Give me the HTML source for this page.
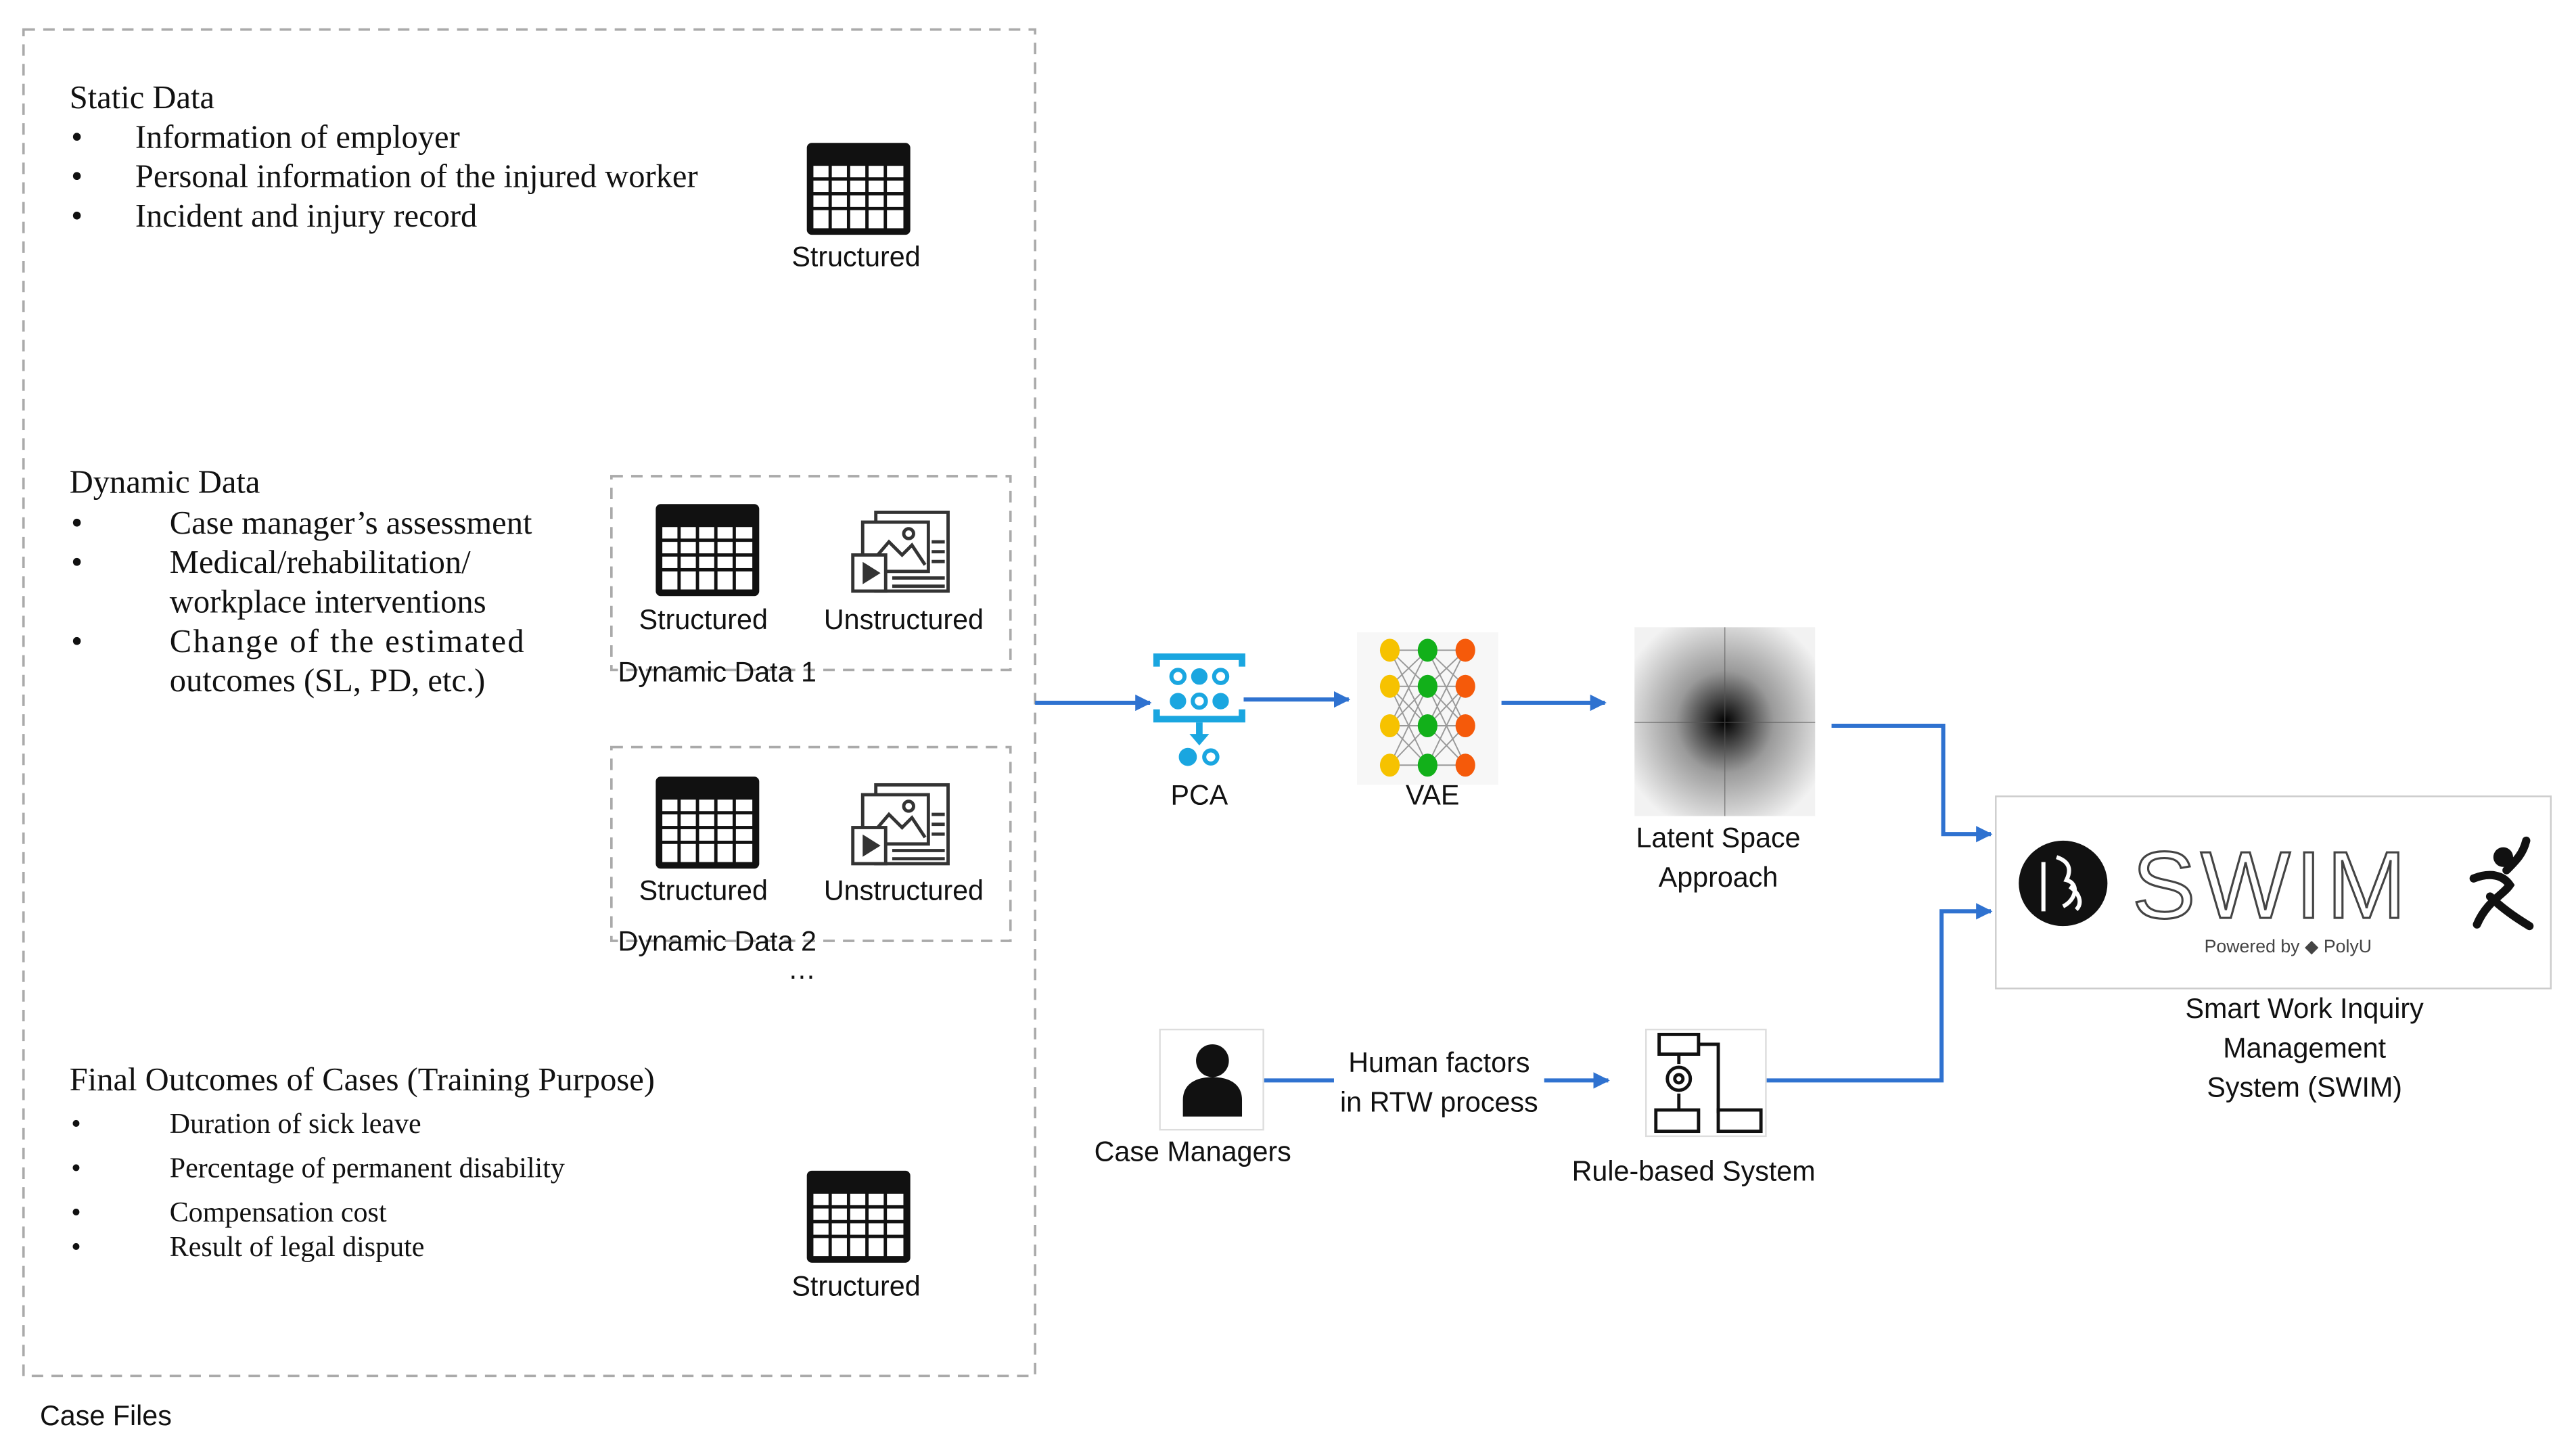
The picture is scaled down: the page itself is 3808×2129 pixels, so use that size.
<!DOCTYPE html>
<html><head><meta charset="utf-8"><style>
html,body{margin:0;padding:0;background:#fff;width:3808px;height:2129px;overflow:hidden}
svg{display:block}
.s{font-family:"Liberation Serif",serif;fill:#111}
.a{font-family:"Liberation Sans","DejaVu Sans",sans-serif;fill:#111}
</style></head><body>
<svg width="3808" height="2129" viewBox="0 0 1568 877" xmlns="http://www.w3.org/2000/svg">
<defs>
<marker id="ar" markerWidth="10" markerHeight="10" refX="9" refY="5" orient="auto" markerUnits="userSpaceOnUse" viewBox="0 0 10 10"><path d="M0,0 L10,5 L0,10 z" fill="#2f72d0"/></marker>
<g id="tbl">
<rect x="0" y="0" width="63" height="56" fill="#111" rx="3"/>
<g fill="#fff">
<rect x="4" y="14" width="9.2" height="7"/><rect x="15.2" y="14" width="9.2" height="7"/><rect x="26.4" y="14" width="9.2" height="7"/><rect x="37.6" y="14" width="9.2" height="7"/><rect x="48.8" y="14" width="10" height="7"/>
<rect x="4" y="23" width="9.2" height="7"/><rect x="15.2" y="23" width="9.2" height="7"/><rect x="26.4" y="23" width="9.2" height="7"/><rect x="37.6" y="23" width="9.2" height="7"/><rect x="48.8" y="23" width="10" height="7"/>
<rect x="4" y="32" width="9.2" height="7"/><rect x="15.2" y="32" width="9.2" height="7"/><rect x="26.4" y="32" width="9.2" height="7"/><rect x="37.6" y="32" width="9.2" height="7"/><rect x="48.8" y="32" width="10" height="7"/>
<rect x="4" y="41" width="9.2" height="11"/><rect x="15.2" y="41" width="9.2" height="11"/><rect x="26.4" y="41" width="9.2" height="11"/><rect x="37.6" y="41" width="9.2" height="11"/><rect x="48.8" y="41" width="10" height="11"/>
</g></g>
<g id="uns" fill="none" stroke="#333" stroke-width="2">
<rect x="14" y="4" width="44" height="48" fill="#fff"/>
<rect x="6" y="10" width="40" height="30" fill="#fff"/>
<path d="M10,36 L22,22 L30,30 L36,24 L44,36"/>
<circle cx="34" cy="17" r="3"/>
<rect x="0" y="30" width="20" height="22" fill="#fff"/>
<path d="M7,36 L15,41 L7,46 z" fill="#333"/>
<path d="M48,22 h8 M48,28 h8 M48,34 h8 M24,44 h32 M24,49 h32"/>
</g>
</defs>

<rect x="14" y="18" width="616" height="820" fill="none" stroke="#aaa" stroke-width="1.5" stroke-dasharray="7,5"/>
<text class="a" x="24" y="868" font-size="17">Case Files</text>

<text class="s" x="42" y="66" font-size="20">Static Data</text>
<g class="s" font-size="20">
<text x="43" y="90">•</text><text x="82" y="90">Information of employer</text>
<text x="43" y="114">•</text><text x="82" y="114">Personal information of the injured worker</text>
<text x="43" y="138">•</text><text x="82" y="138">Incident and injury record</text>
</g>
<use href="#tbl" x="491" y="87"/>
<text class="a" x="521" y="162" font-size="17" text-anchor="middle">Structured</text>

<text class="s" x="42" y="300" font-size="20">Dynamic Data</text>
<g class="s" font-size="20">
<text x="43" y="325">•</text><text x="103" y="325">Case manager’s assessment</text>
<text x="43" y="349">•</text><text x="103" y="349">Medical/rehabilitation/</text>
<text x="103" y="373">workplace interventions</text>
<text x="43" y="397">•</text><text x="103" y="397" letter-spacing="1">Change of the estimated</text>
<text x="103" y="421">outcomes (SL, PD, etc.)</text>
</g>

<rect x="372" y="290" width="243" height="118" fill="none" stroke="#aaa" stroke-width="1.5" stroke-dasharray="7,5"/>
<use href="#tbl" x="399" y="307"/>
<use href="#uns" x="519" y="308"/>
<text class="a" x="428" y="383" font-size="17" text-anchor="middle">Structured</text>
<text class="a" x="550" y="383" font-size="17" text-anchor="middle">Unstructured</text>
<text class="a" x="376" y="415" font-size="17">Dynamic Data 1</text>

<rect x="372" y="455" width="243" height="118" fill="none" stroke="#aaa" stroke-width="1.5" stroke-dasharray="7,5"/>
<use href="#tbl" x="399" y="473"/>
<use href="#uns" x="519" y="474"/>
<text class="a" x="428" y="548" font-size="17" text-anchor="middle">Structured</text>
<text class="a" x="550" y="548" font-size="17" text-anchor="middle">Unstructured</text>
<text class="a" x="376" y="579" font-size="17">Dynamic Data 2</text>
<text class="a" x="488" y="596" font-size="17" text-anchor="middle">…</text>

<text class="s" x="42" y="664" font-size="20">Final Outcomes of Cases (Training Purpose)</text>
<g class="s" font-size="17.3">
<text x="43" y="690">•</text><text x="103" y="690">Duration of sick leave</text>
<text x="43" y="717">•</text><text x="103" y="717">Percentage of permanent disability</text>
<text x="43" y="744">•</text><text x="103" y="744">Compensation cost</text>
<text x="43" y="765">•</text><text x="103" y="765">Result of legal dispute</text>
</g>
<use href="#tbl" x="491" y="713"/>
<text class="a" x="521" y="789" font-size="17" text-anchor="middle">Structured</text>

<g stroke="#2f72d0" stroke-width="2.5" fill="none" marker-end="url(#ar)">
<path d="M630,428 H700"/>
<path d="M757,426 H821"/>
<path d="M914,428 H977"/>
<path d="M1115,442 H1183 V508 H1212"/>
<path d="M769,658 H979"/>
<path d="M1075,658 H1182 V555 H1212"/>
</g>

<g fill="#1aa6e0" stroke="#1aa6e0">
<path d="M704,406 v-6 h52 v6" fill="none" stroke-width="4"/>
<path d="M704,432 v6 h52 v-6" fill="none" stroke-width="4"/>
<circle cx="717" cy="412" r="4" fill="none" stroke-width="2.5"/><circle cx="730" cy="412" r="4.5"/><circle cx="743" cy="412" r="4" fill="none" stroke-width="2.5"/>
<circle cx="717" cy="427" r="4.5"/><circle cx="730" cy="427" r="4" fill="none" stroke-width="2.5"/><circle cx="743" cy="427" r="4.5"/>
<path d="M730,440 v8" stroke-width="4"/><path d="M724,447 h12 l-6,7 z" stroke="none"/>
<circle cx="723" cy="461" r="5"/><circle cx="737" cy="461" r="4" fill="none" stroke-width="2.5"/>
</g>
<text class="a" x="730" y="490" font-size="17" text-anchor="middle">PCA</text>

<rect x="826" y="385" width="86" height="93" fill="#f7f7f7"/>
<g stroke="#999" stroke-width="0.8" fill="none">
<path d="M846,396 L869,418 L892,396 M846,418 L869,396 L892,418 M846,418 L869,442 L892,418 M846,442 L869,418 L892,442 M846,442 L869,466 L892,442 M846,466 L869,442 L892,466 M846,396 L869,442 M846,418 L869,466 M846,442 L869,396 M846,466 L869,418 M869,396 L892,442 M869,418 L892,466 M869,442 L892,396 M869,466 L892,418 M846,396 H892 M846,418 H892 M846,442 H892 M846,466 H892"/>
</g>
<g fill="#f6c200"><ellipse cx="846" cy="396" rx="6" ry="7"/><ellipse cx="846" cy="418" rx="6" ry="7"/><ellipse cx="846" cy="442" rx="6" ry="7"/><ellipse cx="846" cy="466" rx="6" ry="7"/></g>
<g fill="#12b01a"><ellipse cx="869" cy="396" rx="6" ry="7"/><ellipse cx="869" cy="418" rx="6" ry="7"/><ellipse cx="869" cy="442" rx="6" ry="7"/><ellipse cx="869" cy="466" rx="6" ry="7"/></g>
<g fill="#f55a0a"><ellipse cx="892" cy="396" rx="6" ry="7"/><ellipse cx="892" cy="418" rx="6" ry="7"/><ellipse cx="892" cy="442" rx="6" ry="7"/><ellipse cx="892" cy="466" rx="6" ry="7"/></g>
<text class="a" x="872" y="490" font-size="17" text-anchor="middle">VAE</text>

<defs><radialGradient id="lg" cx="50%" cy="50%" r="60%"><stop offset="0" stop-color="#000"/><stop offset="0.15" stop-color="#333"/><stop offset="0.45" stop-color="#9a9a9a"/><stop offset="1" stop-color="#f2f2f2"/></radialGradient></defs>
<rect x="995" y="382" width="110" height="115" fill="url(#lg)"/>
<path d="M1050,382 V497 M995,440 H1105" stroke="#555" stroke-width="0.6" opacity="0.6"/>
<text class="a" x="1046" y="516" font-size="17" text-anchor="middle">Latent Space</text>
<text class="a" x="1046" y="540" font-size="17" text-anchor="middle">Approach</text>

<rect x="1215" y="485" width="338" height="117" fill="#fff" stroke="#ccc" stroke-width="1"/>
<ellipse cx="1256" cy="538" rx="27" ry="26" fill="#111"/>
<path d="M1244,525 v30 M1252,522 c6,2 10,6 6,14 c8,2 6,12 -2,16 M1260,540 c6,4 8,10 4,14" stroke="#fff" stroke-width="2.5" fill="none"/>
<text x="1298" y="559" font-family="'Liberation Sans',sans-serif" font-size="58" fill="#fff" stroke="#444" stroke-width="1.3" letter-spacing="3">SWIM</text>
<text x="1342" y="580" font-family="'Liberation Sans',sans-serif" font-size="11" fill="#444">Powered by ◆ PolyU</text>
<circle cx="1524" cy="522" r="6" fill="#111"/>
<path d="M1506,535 c10,-4 18,-2 22,4 c-4,6 -14,10 -20,24 M1516,546 c6,6 14,12 24,18 M1526,530 c6,-6 10,-10 12,-18" stroke="#111" stroke-width="5" fill="none" stroke-linecap="round"/>
<text class="a" x="1403" y="620" font-size="17" text-anchor="middle">Smart Work Inquiry</text>
<text class="a" x="1403" y="644" font-size="17" text-anchor="middle">Management</text>
<text class="a" x="1403" y="668" font-size="17" text-anchor="middle">System (SWIM)</text>

<rect x="706" y="627" width="63" height="61" fill="#fff" stroke="#ddd"/>
<circle cx="738" cy="646" r="10" fill="#111"/>
<path d="M720,680 v-10 c0,-10 8,-14 18,-14 c10,0 18,4 18,14 v10 z" fill="#111"/>
<text class="a" x="726" y="707" font-size="17" text-anchor="middle">Case Managers</text>

<rect x="812" y="636" width="128" height="48" fill="#fff"/>
<text class="a" x="876" y="653" font-size="17" text-anchor="middle">Human factors</text>
<text class="a" x="876" y="677" font-size="17" text-anchor="middle">in RTW process</text>

<rect x="1002" y="627" width="73" height="65" fill="#fff" stroke="#ddd"/>
<g fill="none" stroke="#111" stroke-width="2">
<rect x="1010" y="630" width="24" height="12"/>
<path d="M1022,642 v6 M1034,636 h12 v42 M1022,666 v10"/>
<circle cx="1022" cy="657" r="7"/><circle cx="1022" cy="657" r="2.5"/>
<rect x="1008" y="676" width="26" height="13"/>
<rect x="1046" y="676" width="26" height="13"/>
</g>
<text class="a" x="1031" y="719" font-size="17" text-anchor="middle">Rule-based System</text>
</svg>
</body></html>
